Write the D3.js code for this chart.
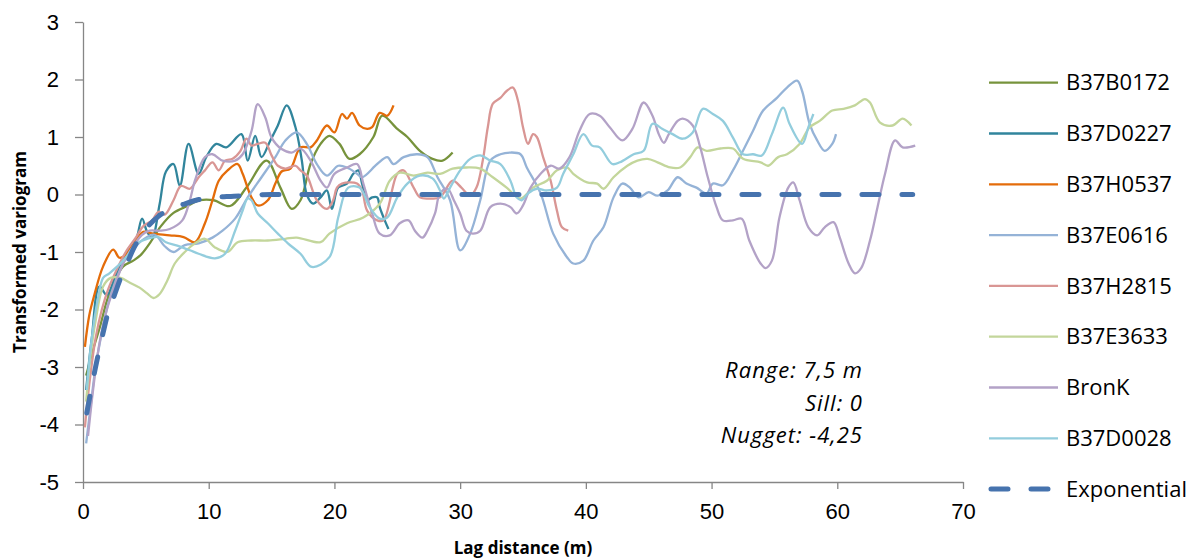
<!DOCTYPE html>
<html>
<head>
<meta charset="utf-8">
<script src="https://cdn.jsdelivr.net/npm/d3@7"></script>
<style>
  body { margin: 0; background: #fff; }
  svg { font-family: "Open Sans", sans-serif; }
  .axis path, .axis line { stroke: #868686; stroke-width: 1.3; }
  .axis text { font-size: 22px; fill: #000; }
  .title { font-size: 17px; font-weight: bold; }
  .note { font-size: 22px; font-style: italic; letter-spacing: 1px; }
  .legend text { font-size: 22px; }
</style>
</head>
<body>
<svg class="chart" width="1196" height="560"></svg>
<script>
// values: [lag distance (m), transformed variogram]
const B37B0172 = [[0.25,-3.15],[0.8,-2.7],[1.35,-2.3],[1.9,-1.85],[2.5,-1.5],[3.2,-1.25],[4,-1.15],[4.6,-1.05],[5.4,-0.82],[6.2,-0.55],[7.2,-0.32],[8.3,-0.2],[9.3,-0.1],[10.4,-0.1],[11.7,-0.2],[13,0.12],[14.6,0.59],[15.7,0.12],[16.6,-0.25],[17.3,-0.1],[18.1,0.53],[18.9,0.88],[19.6,1.02],[20.4,0.88],[21.2,0.62],[22,0.7],[23.1,1.0],[23.8,1.37],[25,1.14],[25.8,1.0],[26.8,0.76],[27.8,0.62],[28.6,0.59],[29.4,0.73]]
const B37D0227 = [[0.25,-3.4],[0.7,-2.5],[1.3,-1.6],[1.9,-1.75],[2.6,-1.4],[3.4,-1.05],[4.2,-0.8],[4.7,-0.42],[5.1,-0.65],[5.5,-0.75],[6.1,-0.16],[6.6,0.4],[7.2,0.53],[7.7,0.15],[8.4,0.88],[9.2,0.36],[9.8,0.65],[10.6,0.88],[11.4,0.82],[12.6,1.05],[13.1,0.59],[13.7,1.02],[14.2,0.65],[14.9,0.94],[15.5,1.2],[16.2,1.55],[16.9,1.17],[17.4,0.6],[17.8,0],[18.3,-0.16],[18.9,-0.05],[19.4,0.07],[19.8,-0.25],[20.3,0.12],[21,0.19],[21.5,0.36],[21.9,0.42],[22.2,0.19],[22.6,-0.1],[23,-0.05],[23.4,-0.05],[23.6,-0.22],[24,-0.45],[24.3,-0.6]]
const B37H0537 = [[0.15,-2.65],[0.5,-2.1],[0.9,-1.75],[1.6,-1.25],[2.4,-0.96],[2.9,-1.1],[3.4,-1.05],[4.2,-0.8],[4.8,-0.65],[5.6,-0.68],[6.9,-0.71],[8,-0.74],[8.9,-0.83],[9.7,-0.5],[10.3,-0.1],[10.8,0.24],[11.5,0.42],[12.3,0.53],[12.7,0.36],[13.4,-0.05],[13.9,-0.19],[14.7,-0.1],[15.3,0.19],[15.8,0.4],[16.5,0.45],[17.3,0.82],[18.1,0.82],[18.6,0.94],[19.4,1.2],[20,1.08],[20.6,1.4],[21,1.32],[21.4,1.42],[22,1.2],[22.6,1.14],[23,1.17],[23.6,1.42],[24.2,1.37],[24.7,1.55]]
const B37E0616 = [[0.25,-4.33],[0.6,-3.7],[1,-3.0],[1.5,-2.4],[2,-1.9],[2.6,-1.5],[3.3,-1.15],[4,-0.95],[4.8,-0.78],[5.7,-0.7],[6.5,-0.9],[7.2,-1.0],[8.1,-0.88],[9.2,-0.85],[10.3,-0.75],[11.1,-0.63],[12.1,-0.42],[13.1,-0.05],[14.2,0.3],[15.3,0.65],[16.1,0.94],[17,1.08],[17.8,0.88],[18.6,0.53],[19.4,0.33],[20.3,0.5],[21,0.47],[21.8,0.36],[22.2,0.3],[23.4,0.53],[24.2,0.65],[24.7,0.53],[25.5,0.65],[26.6,0.7],[27.4,0.65],[28.2,0.3],[29.2,-0.1],[30,-0.97],[30.8,-0.68],[31.6,-0.1],[32.4,0.59],[33.2,0.7],[34,0.73],[34.8,0.7],[35.3,0.47],[36.4,0.02],[37.4,-0.68],[38.5,-1.09],[39,-1.2],[39.8,-1.15],[40.6,-0.8],[41.4,-0.57],[42.2,-0.05],[42.9,0.19],[43.5,0.12],[44.2,-0.05],[45,0.04],[45.7,-0.02],[46.5,0.07],[47.3,0.3],[48,0.19],[48.8,0.12],[49.6,0.02],[50.1,0.19],[50.9,0.16],[51.7,0.42],[52.5,0.76],[53.3,1.11],[54.1,1.46],[55.2,1.68],[56,1.86],[56.8,1.98],[57.2,1.8],[57.8,1.23],[58.4,0.94],[59,0.76],[59.6,0.88],[59.9,1.05]]
const B37H2815 = [[0.15,-4.05],[0.5,-3.3],[1,-2.5],[1.5,-2.0],[2,-1.65],[2.7,-1.3],[3.4,-1.0],[4.2,-0.75],[4.8,-0.55],[5.5,-0.45],[6,-0.3],[6.5,-0.35],[7.2,-0.1],[7.8,0.15],[8.5,0.1],[9.2,0.3],[9.7,0.42],[10.3,0.56],[10.8,0.42],[11.3,0.59],[11.9,0.62],[12.5,0.75],[13,0.97],[13.4,0.85],[13.9,0.88],[14.5,0.9],[15,0.68],[15.5,0.5],[16.1,0.45],[16.9,0.5],[17.3,0.42],[17.8,0.33],[18.6,-0.1],[19.4,-0.25],[19.9,-0.1],[20.2,0.12],[20.6,0.19],[21.8,0.19],[22.2,0.07],[22.6,-0.28],[23.4,-0.45],[23.9,-0.45],[25,0.36],[25.5,0.42],[26.3,0.12],[26.8,-0.05],[27.6,-0.07],[28.4,-0.05],[29.4,0.24],[30.1,0.12],[30.8,-0.02],[31.3,0.12],[31.8,0.59],[32.2,1.17],[32.6,1.58],[33.2,1.68],[33.7,1.8],[34.2,1.86],[34.6,1.63],[35,1.17],[35.4,0.88],[35.8,1.05],[36.1,1.0],[36.6,0.65],[37.2,0.24],[37.7,-0.28],[38.1,-0.57],[38.6,-0.63]]
const B37E3633 = [[0.25,-3.6],[0.6,-2.8],[1,-2.2],[1.6,-1.6],[2.2,-1.45],[3,-1.45],[3.7,-1.53],[4.5,-1.62],[5.1,-1.72],[5.6,-1.8],[6.1,-1.73],[6.7,-1.5],[7.3,-1.2],[8.1,-1.0],[8.9,-0.85],[9.7,-0.77],[10.5,-0.92],[11.5,-1.0],[12.3,-0.83],[13.4,-0.8],[14.7,-0.8],[16.1,-0.77],[17,-0.75],[18.9,-0.83],[19.6,-0.68],[21,-0.5],[22.3,-0.4],[23.6,-0.16],[24.4,0.24],[25.2,0.38],[26.3,0.33],[27.4,0.38],[28.4,0.36],[29.4,0.45],[30.5,0.47],[31.6,0.45],[32.6,0.3],[33.7,0.12],[34.8,-0.07],[35.8,0.12],[36.9,0.24],[37.7,0.42],[38.5,0.47],[39,0.36],[40.1,0.21],[40.9,0.19],[41.4,0.1],[42.2,0.3],[43.3,0.5],[44.1,0.59],[44.9,0.62],[45.7,0.56],[46.7,0.47],[47.5,0.47],[48.3,0.65],[48.9,0.82],[49.6,0.76],[50.7,0.8],[51.7,0.8],[52.5,0.62],[53.9,0.56],[54.5,0.5],[55.3,0.65],[56,0.7],[57,0.88],[57.8,1.17],[58.6,1.28],[59.6,1.46],[60.5,1.49],[61.4,1.55],[62.2,1.66],[62.6,1.6],[63.4,1.25],[64.4,1.2],[65.2,1.32],[65.9,1.2]]
const BronK = [[0.4,-4.2],[0.8,-3.4],[1.3,-2.6],[1.9,-2.0],[2.5,-1.6],[3.2,-1.2],[4,-0.9],[4.7,-0.7],[5.3,-0.63],[6.1,-0.63],[6.9,-0.6],[7.9,-0.45],[8.5,-0.1],[8.9,0.24],[9.7,0.65],[10.3,0.7],[11.1,0.59],[12.1,0.59],[12.7,0.7],[13.4,1.1],[13.9,1.57],[14.5,1.34],[15,0.99],[15.8,0.79],[16.6,0.73],[17.3,0.8],[18.1,0.59],[18.9,0.24],[19.4,0.12],[20,0.36],[21,0.47],[21.8,0.53],[22.3,0.19],[23,-0.33],[23.6,-0.68],[24.4,-0.71],[25.2,-0.5],[25.9,-0.45],[26.4,-0.63],[27,-0.75],[27.4,-0.63],[28,-0.33],[28.4,0.02],[29,0.1],[29.5,-0.1],[30,-0.33],[30.5,-0.63],[31,-0.68],[31.6,-0.63],[32.4,-0.22],[33.2,-0.16],[34,-0.22],[34.5,-0.33],[35,-0.19],[35.6,0.12],[36.4,0.36],[37.2,0.5],[37.9,0.45],[38.7,0.65],[39.5,1.11],[40.3,1.4],[41.1,1.37],[41.9,1.17],[42.9,0.94],[43.7,1.14],[44.6,1.6],[45.3,1.37],[45.8,1.05],[46.2,0.9],[46.6,1.05],[47.3,1.28],[47.7,1.32],[48.5,1.2],[49.1,0.82],[49.7,0.3],[50.4,-0.22],[50.9,-0.45],[51.7,-0.45],[52.4,-0.42],[53,-0.8],[53.9,-1.2],[54.3,-1.28],[54.8,-1.15],[55.4,-0.4],[56.1,0.12],[56.5,0.21],[57,-0.1],[57.7,-0.57],[58.4,-0.71],[59,-0.57],[59.7,-0.48],[60.2,-0.75],[60.9,-1.2],[61.4,-1.37],[61.9,-1.28],[62.6,-0.8],[63.2,-0.22],[63.8,0.36],[64.6,0.94],[65.2,0.82],[66.2,0.85]]
const B37D0028 = [[0.3,-3.4],[0.7,-2.5],[1.2,-1.8],[1.6,-1.45],[2.1,-1.37],[3.2,-1.15],[4.3,-0.85],[5.1,-0.77],[6,-0.74],[6.6,-0.83],[7.5,-0.89],[8.5,-0.97],[9.2,-1.03],[10.5,-1.11],[11.3,-1.03],[12.1,-0.63],[12.7,-0.28],[13.1,-0.07],[13.4,-0.1],[13.9,-0.33],[14.7,-0.5],[15.5,-0.68],[16.3,-0.85],[17.3,-1.03],[18.2,-1.26],[19.6,-1.09],[20.3,-0.4],[21.1,0.12],[22,0.12],[22.8,-0.22],[23.6,-0.42],[24.2,-0.4],[25,-0.05],[25.8,0.19],[26.8,0.33],[27.8,0.28],[28.4,0.07],[28.7,-0.07],[29.2,0.12],[30,0.42],[30.8,0.62],[31.6,0.68],[32.4,0.59],[33.2,0.53],[34,0.24],[34.5,-0.05],[34.9,-0.1],[35.4,0.02],[36.1,0.1],[36.9,0.07],[37.7,0.12],[38.2,0.36],[39,0.7],[39.8,1.05],[40.5,0.85],[41.1,0.82],[42.1,0.53],[42.7,0.56],[43.8,0.7],[44.6,0.76],[45.3,1.23],[46.1,1.14],[46.9,1.05],[47.7,0.97],[48.5,1.08],[49.3,1.49],[50.1,1.4],[50.9,1.28],[51.7,0.99],[52.5,0.7],[53.3,0.7],[54,0.68],[54.8,1.05],[55.7,1.51],[56.2,1.23],[57.2,0.88],[57.7,1.17],[58.1,1.4]]
const Exponential = [[0.3,-3.8],[0.6,-3.45],[1,-3.0],[1.5,-2.5],[2,-2.05],[2.5,-1.75],[3,-1.45],[3.5,-1.2],[4,-0.95],[5,-0.6],[6,-0.38],[7,-0.25],[8,-0.17],[9,-0.1],[10,-0.06],[12,-0.03],[15,0],[20,0],[30,0],[40,0],[50,0],[60,0],[66,0]]

const seriesNames = ['B37B0172','B37D0227','B37H0537','B37E0616','B37H2815','B37E3633','BronK','B37D0028','Exponential']
const seriesData = [B37B0172, B37D0227, B37H0537, B37E0616, B37H2815, B37E3633, BronK, B37D0028, Exponential]
const seriesColors = ['#77933c','#31859c','#e46c0a','#95b3d7','#d99694','#c3d69b','#b3a2c7','#93cddd','#4673ae']

const xTicks = [0, 10, 20, 30, 40, 50, 60, 70]
const yTicks = [-5, -4, -3, -2, -1, 0, 1, 2, 3]
const notes = ['Range: 7,5 m', 'Sill: 0', 'Nugget: -4,25']

const svg = d3.select('svg.chart')
const plot = { left: 83, right: 963, top: 22, bottom: 482 }

const x = d3.scaleLinear().domain([0, 70]).range([plot.left, plot.right])
const y = d3.scaleLinear().domain([-5, 3]).range([plot.bottom, plot.top])

// axes
svg.append('g')
  .attr('class', 'axis')
  .attr('transform', `translate(0,${plot.bottom})`)
  .call(d3.axisBottom(x).tickValues(xTicks).tickFormat(d => String(d))
    .tickSize(7).tickPadding(14).tickSizeOuter(0))

svg.append('g')
  .attr('class', 'axis')
  .attr('transform', `translate(${plot.left},0)`)
  .call(d3.axisLeft(y).tickValues(yTicks).tickFormat(d => String(d))
    .tickSize(8).tickPadding(16).tickSizeOuter(0))

svg.selectAll('.axis .domain').attr('stroke', '#868686')

// series
const line = d3.line()
  .x(d => x(d[0]))
  .y(d => y(d[1]))
  .curve(d3.curveCatmullRom.alpha(0.5))

const expLine = d3.line()
  .x(d => x(d[0]))
  .y(d => y(d[1]))
  .curve(d3.curveMonotoneX)

svg.append('g')
  .selectAll('path')
  .data(seriesData)
  .enter()
  .append('path')
  .attr('d', (d, i) => i === 8 ? expLine(d) : line(d))
  .attr('fill', 'none')
  .attr('stroke', (d, i) => seriesColors[i])
  .attr('stroke-width', (d, i) => i === 8 ? 5 : 2.3)
  .attr('stroke-linecap', (d, i) => i === 8 ? 'round' : 'butt')
  .attr('stroke-linejoin', 'round')
  .attr('stroke-dasharray', (d, i) => i === 8 ? '17,23' : null)

// fit parameters
svg.append('g')
  .selectAll('text')
  .data(notes)
  .enter()
  .append('text')
  .attr('class', 'note')
  .attr('x', 863)
  .attr('y', (d, i) => 378 + i * 32.5)
  .attr('text-anchor', 'end')
  .text(d => d)

// axis titles
svg.append('text')
  .attr('class', 'title')
  .attr('x', (plot.left + plot.right) / 2)
  .attr('y', 554)
  .attr('text-anchor', 'middle')
  .text('Lag distance (m)')

svg.append('text')
  .attr('class', 'title')
  .attr('transform', `translate(26,${(plot.top + plot.bottom) / 2}) rotate(-90)`)
  .attr('text-anchor', 'middle')
  .text('Transformed variogram')

// legend
const legend = svg.append('g')
  .attr('class', 'legend')
  .selectAll('g')
  .data(seriesNames)
  .enter()
  .append('g')
  .attr('transform', (d, i) => `translate(989,${82.7 + i * 50.8})`)

legend.append('line')
  .attr('x1', (d, i) => i === 8 ? 2 : 0)
  .attr('x2', (d, i) => i === 8 ? 67 : 69)
  .attr('stroke', (d, i) => seriesColors[i])
  .attr('stroke-width', (d, i) => i === 8 ? 5 : 2.3)
  .attr('stroke-linecap', (d, i) => i === 8 ? 'round' : 'butt')
  .attr('stroke-dasharray', (d, i) => i === 8 ? '17,23' : null)

legend.append('text')
  .attr('x', 77)
  .attr('dy', '0.35em')
  .text(d => d)
</script>
</body>
</html>
